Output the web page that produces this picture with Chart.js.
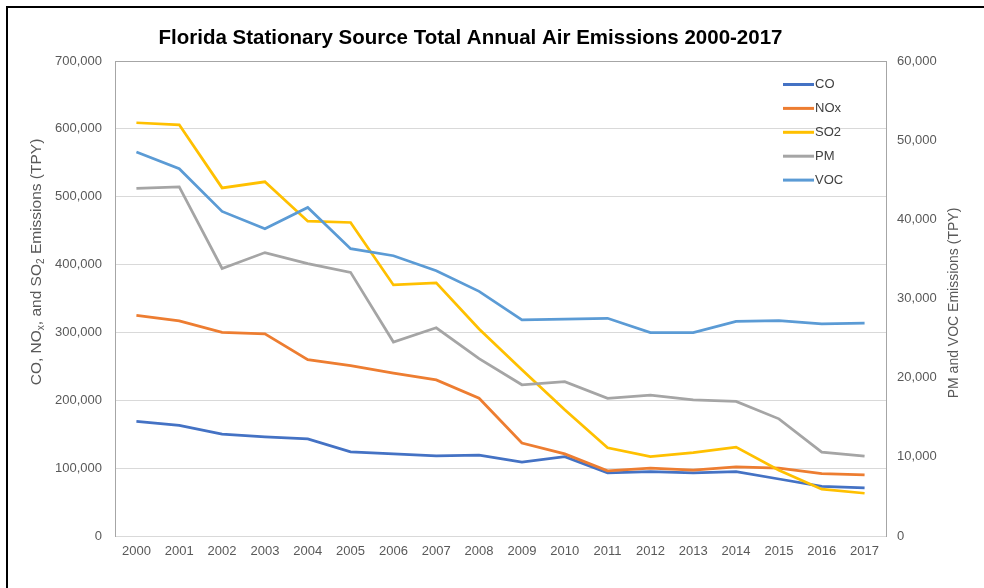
<!DOCTYPE html>
<html>
<head>
<meta charset="utf-8">
<title>Florida Stationary Source Total Annual Air Emissions 2000-2017</title>
<script src="https://cdn.jsdelivr.net/npm/chart.js@4.4.1/dist/chart.umd.min.js"></script>
<style>
    body { margin: 0; background: #ffffff; }
    #wrap { width: 984px; height: 588px; }
</style>
</head>
<body>
<div id="wrap"><canvas id="lineChart" width="984" height="588"></canvas></div>
<script>
const years = ["2000", "2001", "2002", "2003", "2004", "2005", "2006", "2007", "2008",
    "2009", "2010", "2011", "2012", "2013", "2014", "2015", "2016", "2017"];

// left axis series (TPY)
const coValues = [169000, 163000, 150000, 146000, 143000, 124000, 121000, 118000, 119000,
    109000, 117000, 93000, 95000, 93000, 95000, 84000, 73000, 71000];
const noxValues = [325000, 317000, 300000, 298000, 260000, 251000, 240000, 230000, 203000,
    137000, 121000, 96000, 100000, 97000, 102000, 100000, 92000, 90000];
const so2Values = [609000, 606000, 513000, 522000, 464000, 462000, 370000, 373000, 305000,
    245000, 186000, 130000, 117000, 123000, 131000, 97000, 69000, 63000];

// right axis series (TPY)
const pmValues = [43900, 44100, 33800, 35800, 34400, 33300, 24500, 26300, 22400,
    19100, 19500, 17400, 17800, 17200, 17000, 14800, 10600, 10100];
const vocValues = [48500, 46400, 41000, 38800, 41500, 36300, 35400, 33500, 30900,
    27300, 27400, 27500, 25700, 25700, 27100, 27200, 26800, 26900];

const seriesNames = ["CO", "NOx", "SO2", "PM", "VOC"];
const seriesColors = ["#4472C4", "#ED7D31", "#FFC000", "#A5A5A5", "#5B9BD5"];

const leftTicks = [0, 100000, 200000, 300000, 400000, 500000, 600000, 700000];
const rightTicks = [0, 10000, 20000, 30000, 40000, 50000, 60000];

const fontFamily = "'Liberation Sans', Arial, sans-serif";
const textColor = "#595959";

// Function to draw rotated text made of normal and subscript pieces
function drawRotatedTitle(ctx, parts, x, y, size) {
    ctx.save();
    ctx.translate(x, y);
    ctx.rotate(-Math.PI / 2);
    ctx.fillStyle = textColor;
    ctx.textBaseline = "middle";
    ctx.textAlign = "left";
    let total = 0;
    parts.forEach((p) => {
        ctx.font = `${p.sub ? size * 0.65 : size}px ${fontFamily}`;
        total += ctx.measureText(p.text).width;
    });
    let cx = -total / 2;
    parts.forEach((p) => {
        ctx.font = `${p.sub ? size * 0.65 : size}px ${fontFamily}`;
        ctx.fillText(p.text, cx, p.sub ? size * 0.3 : 0);
        cx += ctx.measureText(p.text).width;
    });
    ctx.restore();
}

// plugin for the frame, the legend and the two axis titles
const decorPlugin = {
    id: "decor",
    beforeDraw(chart) {
        const ctx = chart.ctx;
        ctx.save();
        ctx.fillStyle = "#ffffff";
        ctx.fillRect(0, 0, chart.width, chart.height);
        ctx.fillStyle = "#000000";
        ctx.fillRect(6, 6, 2, chart.height - 6);
        ctx.fillRect(6, 6, chart.width - 6, 2);
        ctx.restore();
    },
    afterDraw(chart) {
        const ctx = chart.ctx;
        const area = chart.chartArea;

        // legend in the top right corner of the plot
        ctx.save();
        ctx.font = `13px ${fontFamily}`;
        ctx.textBaseline = "middle";
        ctx.textAlign = "left";
        seriesNames.forEach((name, i) => {
            const y = area.top + 23.5 + i * 23.9;
            const x = area.right - 103;
            ctx.strokeStyle = seriesColors[i];
            ctx.lineWidth = 3;
            ctx.beginPath();
            ctx.moveTo(x, y);
            ctx.lineTo(x + 31, y);
            ctx.stroke();
            ctx.fillStyle = "#404040";
            ctx.fillText(name, x + 32, y);
        });
        ctx.restore();

        drawRotatedTitle(ctx, [
            { text: "CO, NO" }, { text: "x", sub: true },
            { text: ", and SO" }, { text: "2", sub: true },
            { text: " Emissions (TPY)" }
        ], 37, 262, 15.5);
        drawRotatedTitle(ctx, [{ text: "PM and VOC Emissions (TPY)" }], 954, 303, 14);
    }
};

function makeDataset(label, data, color, axis, order) {
    return {
        label: label,
        data: data,
        yAxisID: axis,
        borderColor: color,
        backgroundColor: color,
        borderWidth: 2.75,
        pointRadius: 0,
        tension: 0,
        fill: false,
        order: order
    };
}

const ctx = document.getElementById("lineChart").getContext("2d");

new Chart(ctx, {
    type: "line",
    data: {
        labels: years,
        datasets: [
            makeDataset(seriesNames[0], coValues, seriesColors[0], "yLeft", 4),
            makeDataset(seriesNames[1], noxValues, seriesColors[1], "yLeft", 3),
            makeDataset(seriesNames[2], so2Values, seriesColors[2], "yLeft", 2),
            makeDataset(seriesNames[3], pmValues, seriesColors[3], "yRight", 1),
            makeDataset(seriesNames[4], vocValues, seriesColors[4], "yRight", 0)
        ]
    },
    options: {
        responsive: false,
        animation: false,
        layout: { padding: { left: 0, right: 43, top: 0, bottom: 0 } },
        plugins: {
            legend: { display: false },
            tooltip: { enabled: false },
            title: {
                display: true,
                text: "Florida Stationary Source Total Annual Air Emissions 2000-2017",
                color: "#000000",
                font: { family: fontFamily, size: 20.5, weight: "bold", lineHeight: 1.2 },
                padding: { top: 26, bottom: 10.4 }
            }
        },
        scales: {
            x: {
                offset: true,
                grid: { display: false, drawTicks: false },
                border: { display: true, color: "#D9D9D9", width: 1 },
                ticks: {
                    color: textColor,
                    padding: 8,
                    maxRotation: 0,
                    autoSkip: false,
                    font: { family: fontFamily, size: 13 }
                },
                afterFit(scale) { scale.height = 52; }
            },
            yLeft: {
                position: "left",
                min: leftTicks[0],
                max: leftTicks[leftTicks.length - 1],
                afterBuildTicks(scale) { scale.ticks = leftTicks.map((v) => ({ value: v })); },
                grid: {
                    drawTicks: false,
                    color: (c) => (c.tick && c.tick.value === 700000 ? "#A6A6A6" : "#D9D9D9"),
                    lineWidth: 1
                },
                border: { display: true, color: "#A6A6A6", width: 1 },
                ticks: {
                    color: textColor,
                    padding: 13,
                    font: { family: fontFamily, size: 13 },
                    callback: (v) => v.toLocaleString("en-US")
                },
                afterFit(scale) { scale.width = 115; }
            },
            yRight: {
                position: "right",
                min: rightTicks[0],
                max: rightTicks[rightTicks.length - 1],
                afterBuildTicks(scale) { scale.ticks = rightTicks.map((v) => ({ value: v })); },
                grid: { display: false, drawTicks: false },
                border: { display: true, color: "#A6A6A6", width: 1 },
                ticks: {
                    color: textColor,
                    padding: 11,
                    font: { family: fontFamily, size: 13 },
                    callback: (v) => v.toLocaleString("en-US")
                },
                afterFit(scale) { scale.width = 55; }
            }
        }
    },
    plugins: [decorPlugin]
});
</script>
</body>
</html>
